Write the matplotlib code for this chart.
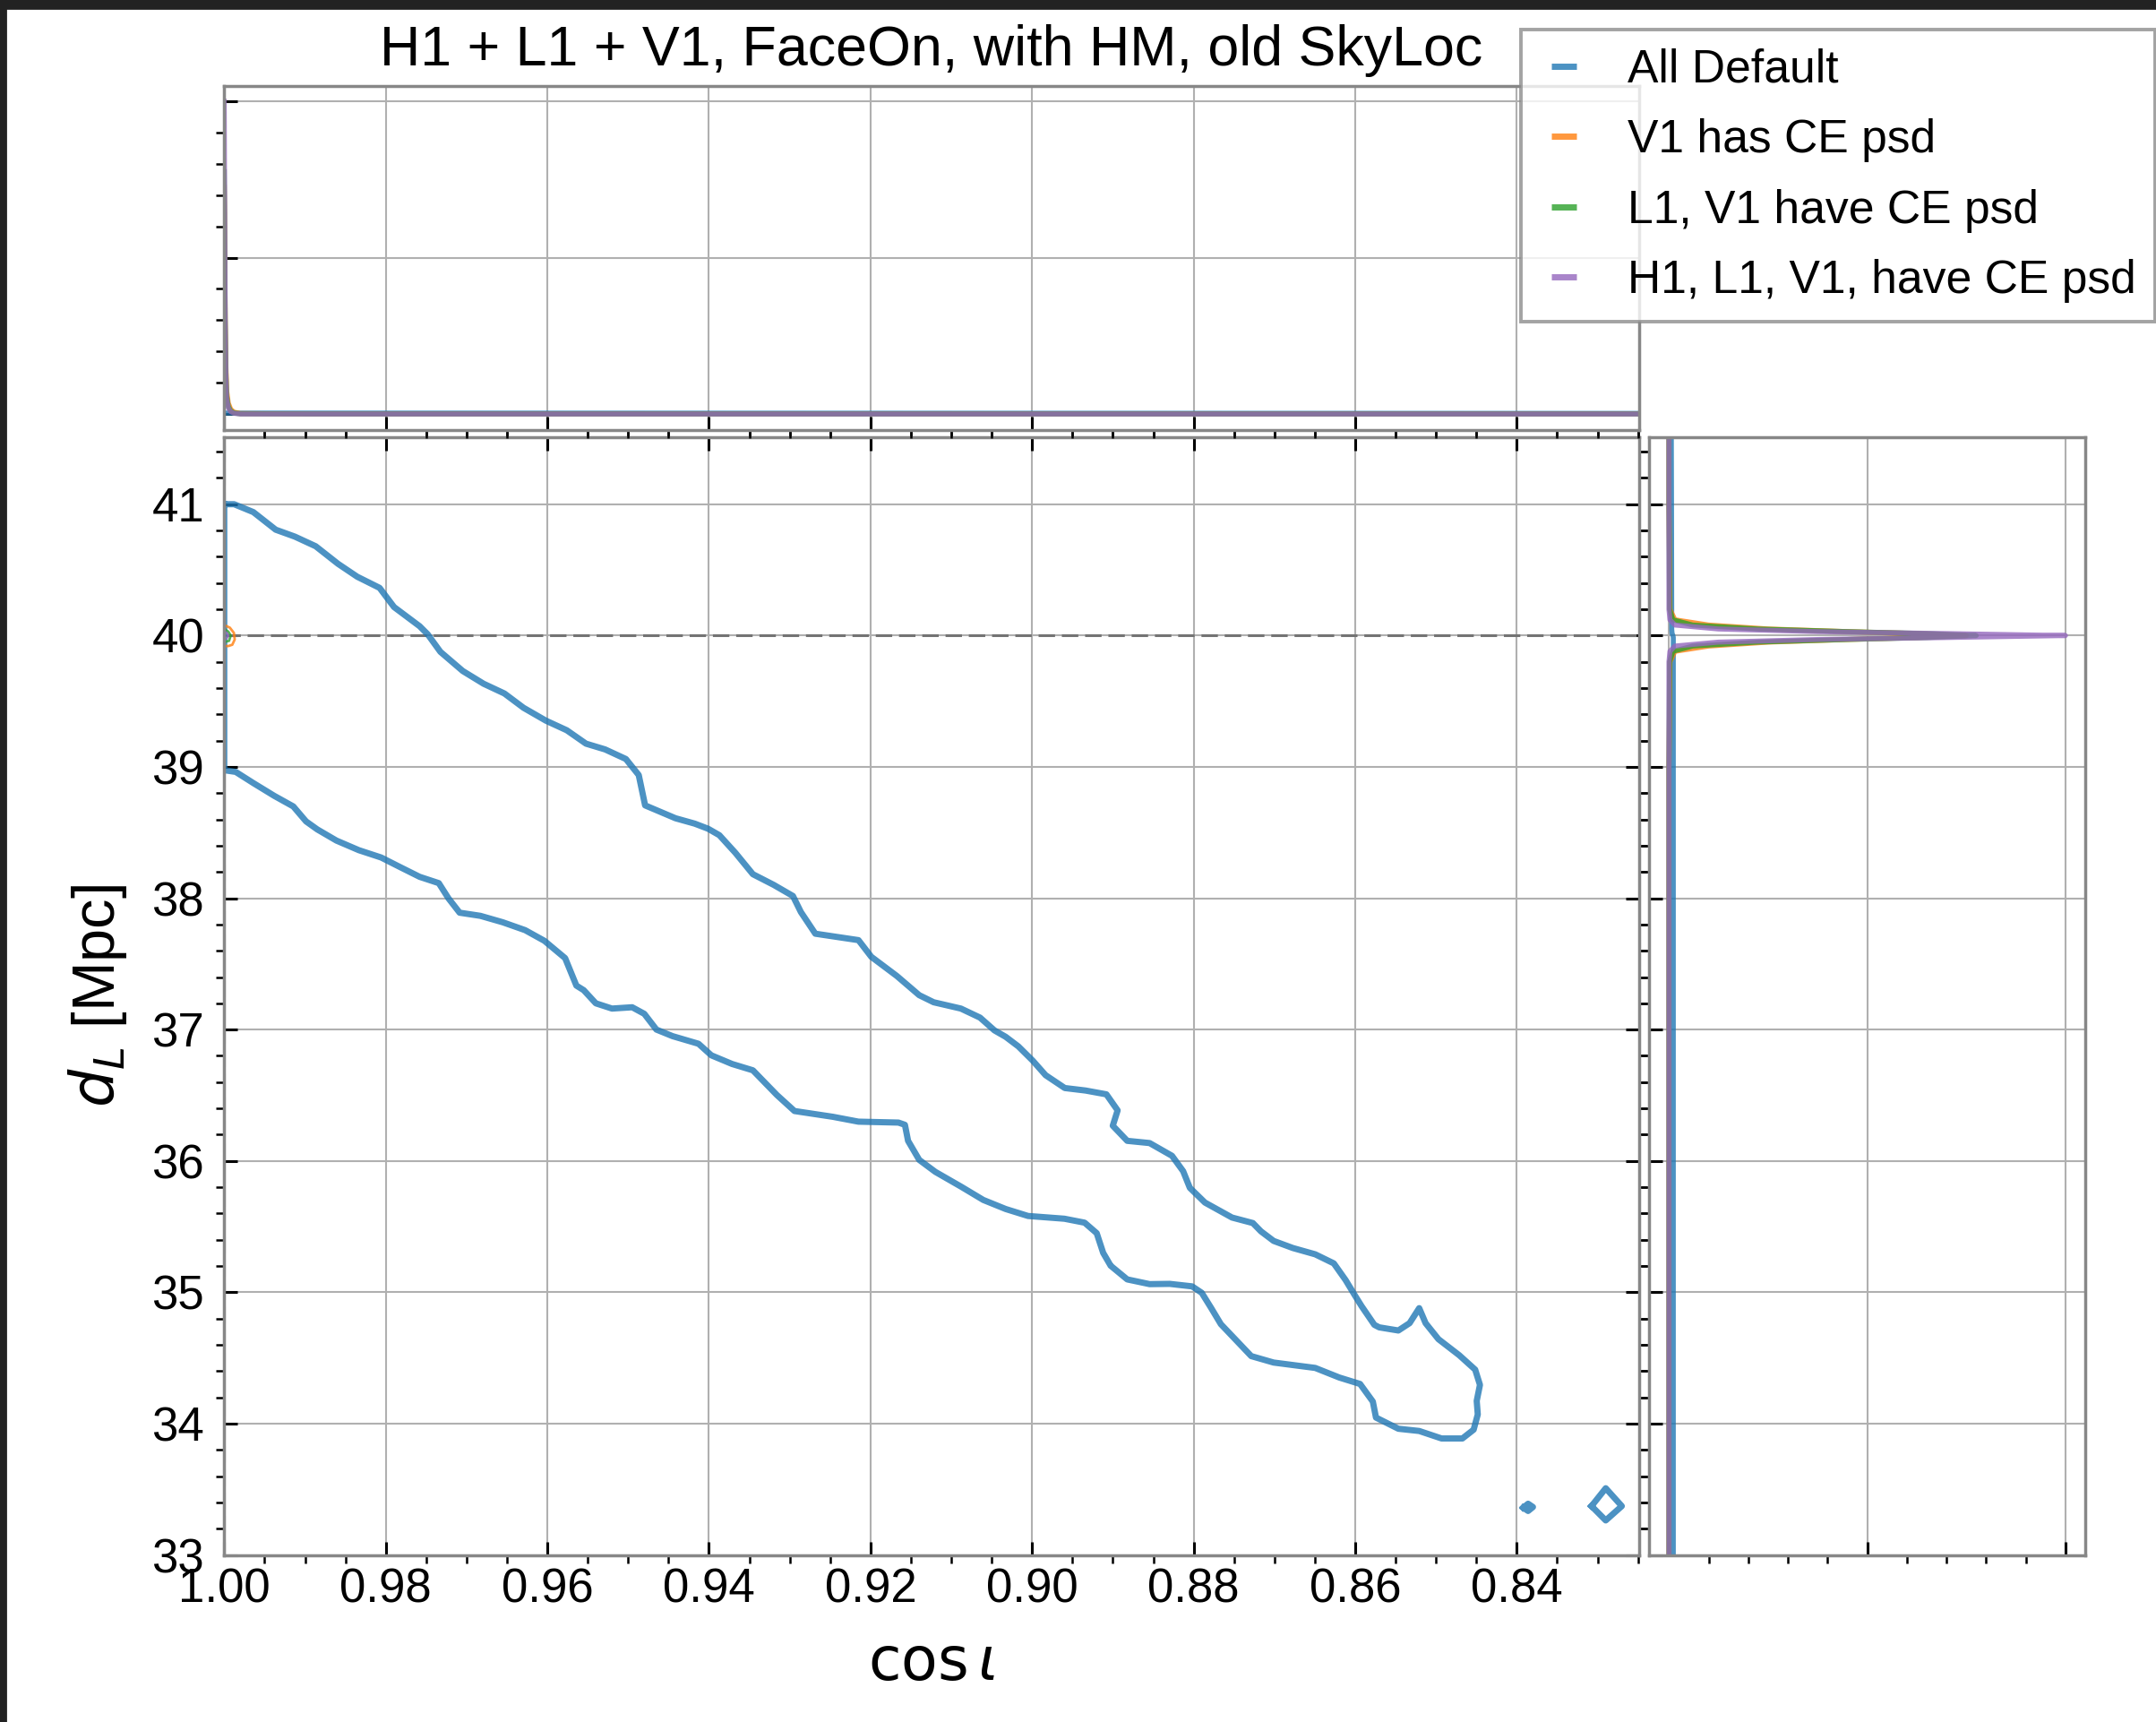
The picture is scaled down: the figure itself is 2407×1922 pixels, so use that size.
import matplotlib
matplotlib.use("Agg")
import matplotlib.pyplot as plt
from matplotlib.ticker import MultipleLocator, AutoMinorLocator, FormatStrFormatter
from matplotlib.patches import Rectangle

# ---------------------------------------------------------------- data
title = "H1 + L1 + V1, FaceOn, with HM, old SkyLoc"
series_labels = ["All Default", "V1 has CE psd", "L1, V1 have CE psd", "H1, L1, V1, have CE psd"]
series_colors = ["tab:blue", "tab:orange", "tab:green", "tab:purple"]
d_true = 40.0
cos_true = 1.0

# 90% credible contour of "All Default" (closed outline: upper edge, tip, lower edge)
default_cos = [1.0000, 0.99878, 0.99640, 0.99363, 0.99125, 0.98868, 0.98591, 0.98354, 0.98077,
               0.97898, 0.97581, 0.97482, 0.97324, 0.97047, 0.96789, 0.96532, 0.96295, 0.96018,
               0.95760, 0.95522, 0.95285, 0.95028, 0.94869, 0.94790, 0.94414, 0.94176, 0.94010,
               0.93871, 0.93673, 0.93456, 0.93199, 0.92960, 0.92862, 0.92683, 0.92149, 0.91990,
               0.91674, 0.91397, 0.91218, 0.90881, 0.90644, 0.90466, 0.90327, 0.90170, 0.89991,
               0.89833, 0.89595, 0.89338, 0.89080, 0.88941, 0.89001, 0.88822, 0.88545, 0.88268,
               0.88130, 0.88047, 0.87860, 0.87525, 0.87267, 0.87167, 0.87010, 0.86772, 0.86495,
               0.86265, 0.86119, 0.86000, 0.85921, 0.85763, 0.85703, 0.85466, 0.85327, 0.85208,
               0.85129, 0.84970, 0.84713, 0.84515, 0.84456, 0.84496, 0.84483, 0.84534, 0.84673,
               0.84931, 0.85208, 0.85466, 0.85584, 0.85743, 0.85782, 0.85940, 0.86197, 0.86495,
               0.87010, 0.87287, 0.87505, 0.87663, 0.87782, 0.87900, 0.88019, 0.88296, 0.88545,
               0.88822, 0.89029, 0.89030, 0.89120, 0.89200, 0.89350, 0.89600, 0.90050, 0.90327,
               0.90604, 0.90881, 0.91198, 0.91397, 0.91535, 0.91574, 0.91654, 0.92149, 0.92466,
               0.92941, 0.93159, 0.93456, 0.93713, 0.93970, 0.94129, 0.94450, 0.94650, 0.94800,
               0.94950, 0.95200, 0.95400, 0.95550, 0.95641, 0.95780, 0.96037, 0.96275, 0.96552,
               0.96829, 0.97086, 0.97225, 0.97344, 0.97581, 0.97819, 0.98057, 0.98334, 0.98611,
               0.98848, 0.98987, 0.99145, 0.99382, 0.99640, 0.99858, 1.0000, 1.0000]
default_d = [41.000, 41.000, 40.940, 40.806, 40.753, 40.680, 40.546, 40.448, 40.363,
             40.217, 40.071, 40.010, 39.876, 39.730, 39.633, 39.559, 39.450, 39.352,
             39.279, 39.177, 39.133, 39.060, 38.938, 38.707, 38.609, 38.568, 38.529,
             38.480, 38.346, 38.183, 38.102, 38.017, 37.895, 37.730, 37.681, 37.554,
             37.408, 37.262, 37.208, 37.160, 37.091, 36.994, 36.945, 36.872, 36.763,
             36.653, 36.555, 36.536, 36.507, 36.385, 36.268, 36.153, 36.136, 36.039,
             35.922, 35.795, 35.683, 35.569, 35.527, 35.464, 35.391, 35.337, 35.289,
             35.220, 35.093, 34.972, 34.894, 34.752, 34.733, 34.709, 34.765, 34.879,
             34.765, 34.643, 34.521, 34.411, 34.295, 34.173, 34.070, 33.954, 33.887,
             33.887, 33.944, 33.961, 33.997, 34.046, 34.168, 34.302, 34.351, 34.424,
             34.465, 34.514, 34.655, 34.757, 34.879, 34.996, 35.045, 35.064, 35.062,
             35.098, 35.203, 35.205, 35.300, 35.450, 35.530, 35.560, 35.581, 35.634,
             35.703, 35.805, 35.917, 36.008, 36.153, 36.275, 36.292, 36.299, 36.336,
             36.380, 36.502, 36.690, 36.738, 36.804, 36.892, 36.950, 37.000, 37.120,
             37.170, 37.160, 37.200, 37.300, 37.335, 37.544, 37.676, 37.757, 37.817,
             37.866, 37.890, 38.000, 38.115, 38.163, 38.236, 38.310, 38.366, 38.439,
             38.524, 38.585, 38.699, 38.780, 38.877, 38.962, 38.975, 41.000]

# two small isolated islands of the same contour level
island1_cos = [0.8392, 0.8386, 0.8380, 0.8386, 0.8392]
island1_d = [33.360, 33.390, 33.365, 33.335, 33.360]
island2_cos = [0.83075, 0.82899, 0.82700, 0.82899, 0.83075]
island2_d = [33.372, 33.508, 33.372, 33.263, 33.372]

# tiny contours of the CE runs, right at the injection
orange_cos = [1.0000, 0.9993, 0.9988, 0.9987, 0.9990, 0.9995, 1.0000]
orange_d = [40.080, 40.060, 40.020, 39.970, 39.930, 39.920, 39.920]
green_cos = [1.0000, 0.9995, 0.9992, 0.9994, 1.0000]
green_d = [40.050, 40.030, 40.000, 39.960, 39.950]
purple_cos = [1.0000, 0.9997, 0.9995, 0.9997, 1.0000]
purple_d = [40.030, 40.020, 40.000, 39.980, 39.970]

# marginal density of cos(iota)
top_cos = [1.0000, 0.99997, 0.99993, 0.99988, 0.9998, 0.9997, 0.9995, 0.9992, 0.9988, 0.9980,
           0.9900, 0.9000, 0.8249]
top_default = [0.006, 0.006, 0.006, 0.006, 0.006, 0.006, 0.006, 0.006, 0.006, 0.006,
               0.006, 0.005, 0.004]
top_v1 = [1.45, 1.30, 1.00, 0.62, 0.32, 0.15, 0.07, 0.030, 0.012, 0.003, 0.0, 0.0, 0.0]
top_l1v1 = [1.55, 1.35, 1.00, 0.60, 0.28, 0.12, 0.05, 0.020, 0.007, 0.001, 0.0, 0.0, 0.0]
top_all = [2.00, 1.60, 1.10, 0.60, 0.25, 0.10, 0.04, 0.015, 0.005, 0.0, 0.0, 0.0, 0.0]

# marginal density of d_L
side_d = [33.0, 36.0, 39.0, 39.80, 39.88, 39.92, 39.95, 39.97, 39.985, 40.0,
          40.015, 40.03, 40.05, 40.08, 40.12, 40.20, 41.0, 41.51]
side_default = [0.022, 0.022, 0.022, 0.022, 0.022, 0.022, 0.022, 0.022, 0.022, 0.020,
                0.016, 0.015, 0.014, 0.014, 0.014, 0.014, 0.013, 0.012]
side_v1 = [0.0, 0.0, 0.0, 0.005, 0.03, 0.20, 0.50, 0.90, 1.25, 1.50,
           1.25, 0.90, 0.50, 0.20, 0.03, 0.005, 0.0, 0.0]
side_l1v1 = [0.0, 0.0, 0.0, 0.003, 0.02, 0.12, 0.45, 0.90, 1.30, 1.55,
             1.30, 0.90, 0.45, 0.12, 0.02, 0.003, 0.0, 0.0]
side_all = [0.0, 0.0, 0.0, 0.0, 0.005, 0.03, 0.25, 0.75, 1.40, 2.00,
            1.40, 0.75, 0.25, 0.03, 0.005, 0.0, 0.0, 0.0]

xlim_main = (1.0, 0.8249)
ylim_main = (33.0, 41.51)

# ---------------------------------------------------------------- style
plt.rcParams.update({
    "font.family": ["Liberation Sans", "DejaVu Sans"],
    "mathtext.fontset": "dejavusans",
    "axes.edgecolor": "0.53",
    "axes.linewidth": 1.25,
    "grid.color": "#b0b0b0",
    "grid.linewidth": 0.75,
    "xtick.direction": "in",
    "ytick.direction": "in",
    "xtick.major.size": 5.3,
    "ytick.major.size": 5.3,
    "xtick.major.width": 1.1,
    "ytick.major.width": 1.1,
    "xtick.minor.size": 3.2,
    "ytick.minor.size": 3.2,
    "xtick.minor.width": 0.9,
    "ytick.minor.width": 0.9,
    "xtick.labelsize": 19,
    "ytick.labelsize": 19,
})

ALPHA = 0.8
LW_CONTOUR = 2.5
LW_MARG = 2.0

fig = plt.figure(figsize=(12.035, 9.61), dpi=200)
ax = fig.add_axes([0.1040, 0.0970, 0.6561, 0.6491])
ax_top = fig.add_axes([0.1040, 0.7505, 0.6561, 0.1998], sharex=ax)
ax_side = fig.add_axes([0.7649, 0.0970, 0.2023, 0.6491], sharey=ax)

# ---------------------------------------------------------------- main panel
ax.plot(default_cos, default_d, color=series_colors[0], alpha=ALPHA, lw=LW_CONTOUR)
ax.plot(island1_cos, island1_d, color=series_colors[0], alpha=ALPHA, lw=LW_CONTOUR)
ax.plot(island2_cos, island2_d, color=series_colors[0], alpha=ALPHA, lw=LW_CONTOUR)
ax.plot(orange_cos, orange_d, color=series_colors[1], alpha=ALPHA, lw=1.0)
ax.plot(green_cos, green_d, color=series_colors[2], alpha=ALPHA, lw=1.0)
ax.plot(purple_cos, purple_d, color=series_colors[3], alpha=ALPHA, lw=1.0)
ax.axhline(d_true, color="0.45", ls=(0, (6, 2.5)), lw=1.1, zorder=1.5)
ax.axvline(cos_true, color="0.45", ls=(0, (6, 2.5)), lw=1.1, zorder=1.5)

ax.set_xlim(*xlim_main)
ax.set_ylim(*ylim_main)
ax.xaxis.set_major_locator(MultipleLocator(0.02))
ax.xaxis.set_minor_locator(MultipleLocator(0.005))
ax.xaxis.set_major_formatter(FormatStrFormatter("%.2f"))
ax.yaxis.set_major_locator(MultipleLocator(1))
ax.yaxis.set_minor_locator(MultipleLocator(0.2))
ax.grid(True, which="major")
ax.set_axisbelow(True)
ax.tick_params(which="both", top=True, right=True, colors="black")
ax.tick_params(which="minor", direction="out")
ax.tick_params(axis="y", which="major", pad=8)
ax.tick_params(axis="x", which="major", pad=5)
ax.set_xlabel(r"$\cos\iota$", fontsize=24, labelpad=10)
ax.set_ylabel(r"$d_L$ [Mpc]", fontsize=24, labelpad=9)

# ---------------------------------------------------------------- top marginal
for vals, col in zip([top_default, top_v1, top_l1v1, top_all], series_colors):
    ax_top.plot(top_cos, vals, color=col, alpha=ALPHA, lw=LW_MARG)
ax_top.axvline(cos_true, color="0.45", ls=(0, (6, 2.5)), lw=1.1)
ax_top.set_ylim(-0.1, 2.1)
ax_top.yaxis.set_major_locator(MultipleLocator(1))
ax_top.yaxis.set_minor_locator(AutoMinorLocator(5))
ax_top.grid(True, which="major")
ax_top.set_axisbelow(True)
ax_top.tick_params(which="both", labelbottom=False, labelleft=False, colors="black")
ax_top.tick_params(which="minor", direction="out")
ax_top.set_title(title, fontsize=22.6, pad=8)

# ---------------------------------------------------------------- side marginal
for vals, col in zip([side_default, side_v1, side_l1v1, side_all], series_colors):
    ax_side.plot(vals, side_d, color=col, alpha=ALPHA, lw=LW_MARG)
ax_side.set_xlim(-0.1, 2.1)
ax_side.xaxis.set_major_locator(MultipleLocator(1))
ax_side.xaxis.set_minor_locator(AutoMinorLocator(5))
ax_side.grid(True, which="major")
ax_side.set_axisbelow(True)
ax_side.tick_params(which="both", labelbottom=False, labelleft=False, colors="black")
ax_side.tick_params(which="minor", direction="out")

# ---------------------------------------------------------------- legend
# short dash handles centred in their handle box
handles = [plt.Line2D([], [], color=c, alpha=ALPHA, ls="none", marker="_",
                      markersize=10, markeredgewidth=2.5) for c in series_colors]
leg = fig.legend(handles, series_labels, loc="upper left", bbox_to_anchor=(0.7054, 0.9828),
                 borderaxespad=0.0, fontsize=18.6, handlelength=1.06, handletextpad=0.85,
                 labelspacing=0.57, borderpad=0.4, fancybox=False, framealpha=0.8,
                 edgecolor="0.55")
leg.get_frame().set_linewidth(1.4)

# dark window edge along the top and left of the canvas
fig.add_artist(Rectangle((0, 1 - 9 / 1922), 1, 9 / 1922, transform=fig.transFigure,
                         color="#222222", zorder=10))
fig.add_artist(Rectangle((0, 0), 6 / 2407, 1, transform=fig.transFigure,
                         color="#222222", zorder=10))

fig.savefig("out.png", dpi=200)
